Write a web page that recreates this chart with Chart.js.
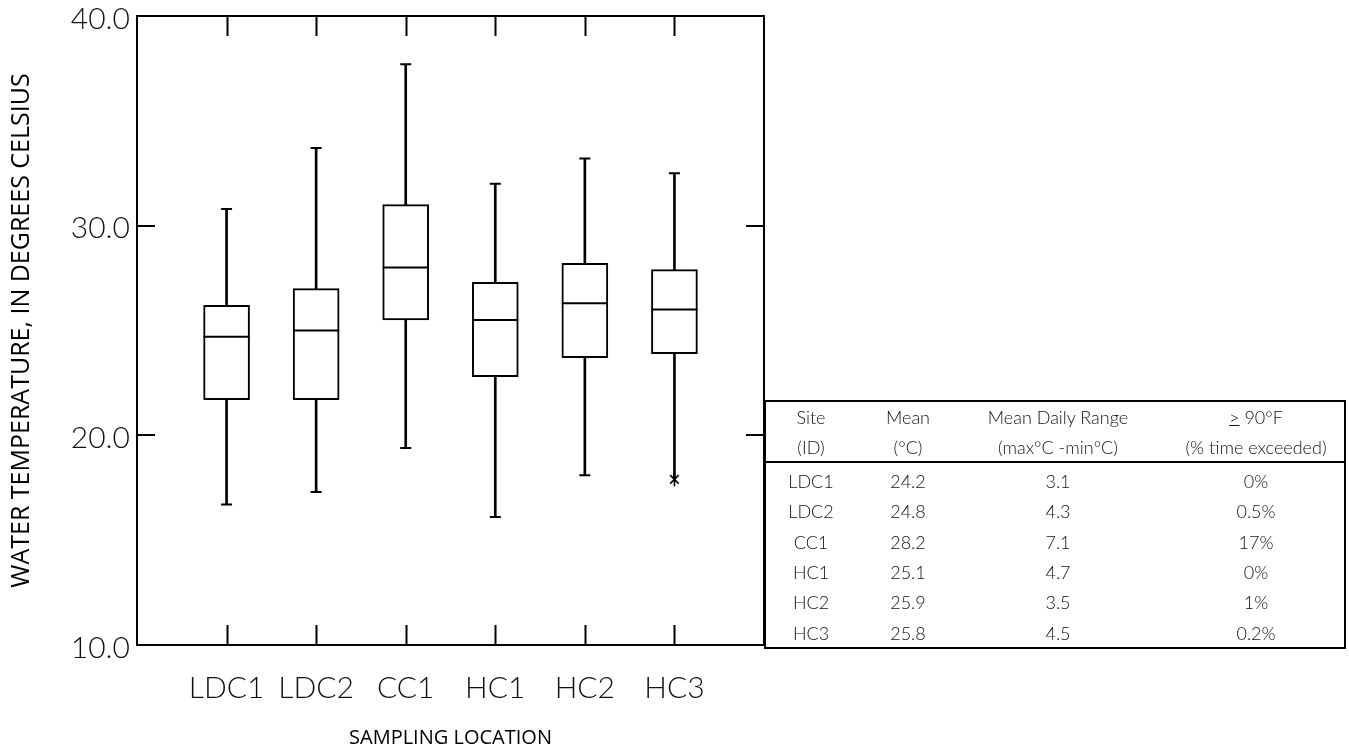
<!DOCTYPE html>
<html>
<head>
<meta charset="utf-8">
<script src="https://cdn.jsdelivr.net/npm/chart.js@4"></script>
<style>
  html, body { margin: 0; padding: 0; background: #fff; }
  #wrap { position: relative; width: 1349px; height: 751px; }
  #wrap canvas { position: absolute; left: 0; top: 0; }
  .tbl {
    position: absolute; left: 764px; top: 400px; width: 582px; height: 249px;
    border: 2.5px solid #000; box-sizing: border-box; background: #fff;
    font-family: Lato, "Open Sans", sans-serif; font-weight: 300; font-size: 18px; color: #111;
  }
  .tbl .row { position: absolute; left: 0; right: 0; height: 30px; line-height: 30px; }
  .tbl .row span { position: absolute; top: 0; text-align: center; white-space: nowrap; }
  .tbl .rule { position: absolute; left: 0; right: 0; height: 0; border-top: 2.5px solid #000; }
</style>
</head>
<body>
<div id="wrap">
  <canvas id="boxChart" width="1349" height="751"></canvas>
  <div class="tbl" id="siteTable"></div>
</div>
<script>
// sampling sites and box statistics (deg C)
const sites = ['LDC1', 'LDC2', 'CC1', 'HC1', 'HC2', 'HC3'];
const whiskerHigh = [30.8, 33.7, 37.7, 32.0, 33.2, 32.5];
const upperQuartile = [26.2, 27.0, 31.0, 27.3, 28.2, 27.9];
const medians = [24.7, 25.0, 28.0, 25.5, 26.3, 26.0];
const lowerQuartile = [21.7, 21.7, 25.5, 22.8, 23.7, 23.9];
const whiskerLow = [16.7, 17.3, 19.4, 16.1, 18.1, 17.9];
const outliers = [null, null, null, null, null, 17.9];
const yTicks = [10, 20, 30, 40];

// summary table columns
const tableMean = ['24.2', '24.8', '28.2', '25.1', '25.9', '25.8'];
const tableRange = ['3.1', '4.3', '7.1', '4.7', '3.5', '4.5'];
const tableExceed = ['0%', '0.5%', '17%', '0%', '1%', '0.2%'];

// empty slot on each side of the six sites
const pad = arr => [null, ...arr, null];
const labels = ['', ...sites, ''];

// no cap where the whisker ends in an outlier
const lowCaps = whiskerLow.map((v, i) => outliers[i] === v ? null : v);

const frame = {
  id: 'frame',
  afterDraw(chart) {
    const { ctx, chartArea: a, scales: { x, y } } = chart;
    ctx.save();
    ctx.strokeStyle = '#000';
    ctx.lineWidth = 2;
    ctx.beginPath();
    ctx.moveTo(a.left, a.top);
    ctx.lineTo(a.right, a.top);
    ctx.lineTo(a.right, a.bottom);
    sites.forEach((s, i) => {
      const px = Math.round(x.getPixelForValue(i + 1)) + 0.5;
      ctx.moveTo(px, a.top);
      ctx.lineTo(px, a.top + 20);
      ctx.moveTo(px, a.bottom);
      ctx.lineTo(px, a.bottom - 20);
    });
    yTicks.forEach(v => {
      const py = Math.round(y.getPixelForValue(v));
      ctx.moveTo(a.left, py);
      ctx.lineTo(a.left + 18, py);
      ctx.moveTo(a.right, py);
      ctx.lineTo(a.right - 18, py);
    });
    ctx.stroke();
    ctx.restore();
  }
};

new Chart(document.getElementById('boxChart'), {
  type: 'bar',
  data: {
    labels: labels,
    datasets: [
      {
        // boxes, q1..q3
        data: pad(sites.map((s, i) => [lowerQuartile[i], upperQuartile[i]])),
        backgroundColor: '#fff',
        borderColor: '#000',
        borderWidth: 2,
        borderSkipped: false,
        barThickness: 46,
        grouped: false,
        order: 2
      },
      {
        // whisker stems
        data: pad(sites.map((s, i) => [whiskerLow[i], whiskerHigh[i]])),
        backgroundColor: '#000',
        borderWidth: 0,
        barThickness: 2,
        grouped: false,
        order: 4
      },
      {
        type: 'line',
        data: pad(medians),
        showLine: false,
        pointStyle: 'line',
        pointRadius: 23,
        borderColor: '#000',
        borderWidth: 2,
        order: 1
      },
      {
        type: 'line',
        data: pad(whiskerHigh),
        showLine: false,
        pointStyle: 'line',
        pointRadius: 5.5,
        borderColor: '#000',
        borderWidth: 2,
        order: 1
      },
      {
        type: 'line',
        data: pad(lowCaps),
        showLine: false,
        pointStyle: 'line',
        pointRadius: 5.5,
        borderColor: '#000',
        borderWidth: 2,
        order: 1
      },
      {
        // outlier asterisk: X plus a vertical stroke
        type: 'line',
        data: pad(outliers),
        showLine: false,
        pointStyle: 'crossRot',
        pointRadius: 6,
        borderColor: '#000',
        borderWidth: 1.6,
        order: 0
      },
      {
        type: 'line',
        data: pad(outliers),
        showLine: false,
        pointStyle: 'line',
        pointRotation: 90,
        pointRadius: 7,
        borderColor: '#000',
        borderWidth: 1.6,
        order: 0
      }
    ]
  },
  options: {
    responsive: false,
    animation: false,
    layout: { autoPadding: false, padding: { top: 16, right: 585, left: 0, bottom: 0 } },
    plugins: {
      legend: { display: false },
      tooltip: { enabled: false }
    },
    scales: {
      x: {
        offset: false,
        grid: { display: false, drawTicks: false },
        border: { display: true, color: '#000', width: 2 },
        ticks: {
          color: '#111',
          font: { family: 'Lato', size: 30, weight: '300' },
          padding: 25,
          autoSkip: false,
          maxRotation: 0
        },
        title: {
          display: true,
          text: 'SAMPLING LOCATION',
          color: '#000',
          font: { family: 'Open Sans', size: 20 },
          padding: { top: 0, bottom: 1 }
        },
        afterFit(scale) { scale.height = 106; }
      },
      y: {
        min: 10,
        max: 40,
        grid: { display: false, drawTicks: false },
        border: { display: true, color: '#000', width: 2 },
        afterBuildTicks(scale) { scale.ticks = yTicks.map(v => ({ value: v })); },
        ticks: {
          color: '#111',
          font: { family: 'Lato', size: 30, weight: '300', lineHeight: 0.5 },
          padding: 7,
          labelOffset: 3,
          callback: v => v.toFixed(1)
        },
        title: {
          display: true,
          text: 'WATER TEMPERATURE, IN DEGREES CELSIUS',
          color: '#000',
          font: { family: 'Open Sans', size: 25 },
          padding: { top: 7, bottom: 0 }
        },
        afterFit(scale) { scale.width = 137; }
      }
    }
  },
  plugins: [frame]
});

// summary table beside the plot
const tbl = document.getElementById('siteTable');
const colCenters = [45, 142, 292, 490];
const colWidths = [90, 110, 200, 200];
function addRow(top, cells) {
  const row = document.createElement('div');
  row.className = 'row';
  row.style.top = top + 'px';
  cells.forEach((html, c) => {
    const span = document.createElement('span');
    span.style.left = (colCenters[c] - colWidths[c] / 2) + 'px';
    span.style.width = colWidths[c] + 'px';
    span.innerHTML = html;
    row.appendChild(span);
  });
  tbl.appendChild(row);
}
addRow(0, ['Site', 'Mean', 'Mean Daily Range', '<u>&gt;</u> 90°F']);
addRow(30, ['(ID)', '(°C)', '(max°C -min°C)', '(% time exceeded)']);
const rule = document.createElement('div');
rule.className = 'rule';
rule.style.top = '59px';
tbl.appendChild(rule);
sites.forEach((s, i) => {
  addRow(64 + i * 30.3, [s, tableMean[i], tableRange[i], tableExceed[i]]);
});
</script>
</body>
</html>
